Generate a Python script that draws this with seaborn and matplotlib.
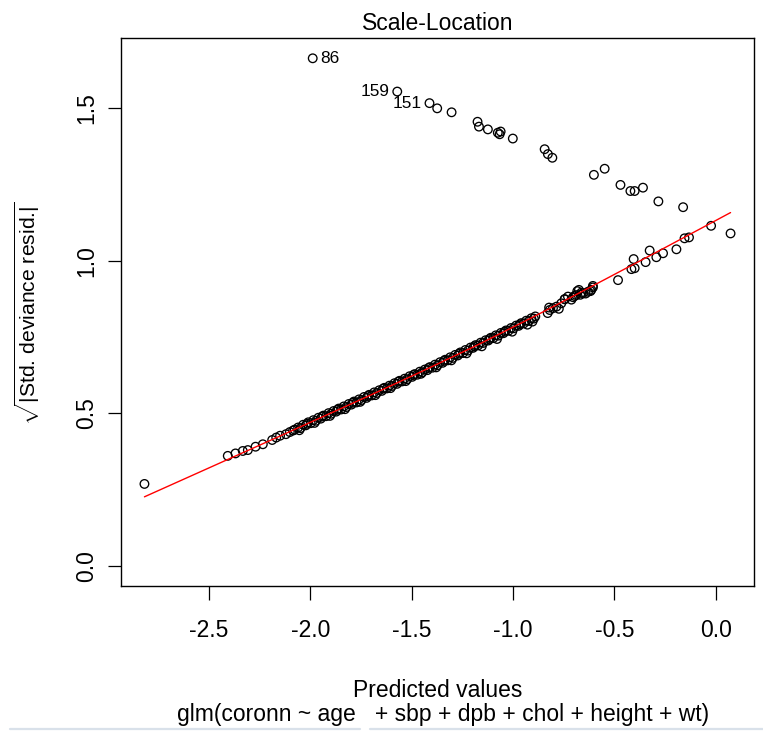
import numpy as np
import pandas as pd
import matplotlib
matplotlib.use("Agg")
import matplotlib.pyplot as plt
from matplotlib.lines import Line2D
import seaborn as sns

# ---- data (predicted value, sqrt|std. deviance resid.|) ----
upper_x = [-1.988, -1.571, -1.412, -1.374, -1.303, -1.175, -1.168, -1.124, -1.075, -1.066,
           -1.061, -1.001, -0.844, -0.828, -0.806, -0.601, -0.548, -0.470, -0.421, -0.400,
           -0.359, -0.283, -0.161]
upper_y = [1.663, 1.554, 1.516, 1.499, 1.486, 1.455, 1.439, 1.430, 1.419, 1.414,
           1.423, 1.400, 1.365, 1.349, 1.337, 1.281, 1.301, 1.248, 1.228, 1.228,
           1.239, 1.194, 1.175]

lower_x = [-2.818, -2.407, -2.369, -2.333, -2.308, -2.270, -2.234, -2.188, -2.168, -2.149,
           -2.120, -2.101, -2.085, -2.077,
           -2.060, -2.048, -2.035, -2.022, -2.010, -1.998, -1.985, -1.972, -1.960, -1.948,
           -1.935, -1.922, -1.910, -1.897, -1.885, -1.872, -1.860, -1.848, -1.835, -1.822,
           -1.810, -1.797, -1.785, -1.772, -1.760, -1.747, -1.735, -1.722, -1.710, -1.697,
           -1.685, -1.672, -1.660, -1.647, -1.635, -1.622, -1.610, -1.597, -1.585, -1.572,
           -1.560, -1.547, -1.535, -1.522, -1.510, -1.497, -1.485, -1.472, -1.460, -1.447,
           -1.435, -1.422, -1.410, -1.397, -1.385, -1.372, -1.360, -1.347, -1.335, -1.322,
           -1.310, -1.297, -1.285, -1.272, -1.260, -1.247, -1.235, -1.222, -1.210, -1.197,
           -1.185, -1.172, -1.160, -1.147, -1.135, -1.122, -1.110, -1.097, -1.085, -1.072,
           -1.060, -1.047, -1.035, -1.022, -1.010, -0.997, -0.985, -0.972, -0.960, -0.947,
           -0.935, -0.922, -0.910, -0.897, -0.890,
           -2.054, -2.016, -1.979, -1.941, -1.903, -1.866, -1.829, -1.791, -1.754, -1.716,
           -1.679, -1.641, -1.604, -1.566, -1.529, -1.491, -1.454, -1.416, -1.379, -1.341,
           -1.304, -1.266, -1.229, -1.191, -1.154, -1.116, -1.079, -1.041, -1.004, -0.966,
           -0.929, -0.904,
           -0.829, -0.822, -0.819, -0.803, -0.786, -0.774, -0.762, -0.745, -0.745, -0.729,
           -0.704, -0.688, -0.683, -0.675, -0.663, -0.655, -0.642, -0.630, -0.618, -0.614,
           -0.606, -0.606, -0.712, -0.696, -0.668,
           -0.482, -0.416, -0.400, -0.405, -0.346, -0.326, -0.293, -0.260, -0.194, -0.154,
           -0.132, -0.023, 0.073]
lower_y = [0.268, 0.360, 0.368, 0.376, 0.379, 0.390, 0.398, 0.412, 0.420, 0.426,
           0.431, 0.438, 0.443, 0.446,
           0.453, 0.451, 0.462, 0.460, 0.470, 0.467, 0.477, 0.475, 0.485, 0.482,
           0.492, 0.490, 0.500, 0.498, 0.507, 0.505, 0.515, 0.512, 0.522, 0.520,
           0.530, 0.528, 0.538, 0.535, 0.545, 0.543, 0.553, 0.550, 0.560, 0.558,
           0.568, 0.566, 0.575, 0.573, 0.583, 0.581, 0.590, 0.589, 0.598, 0.596,
           0.606, 0.604, 0.613, 0.611, 0.621, 0.619, 0.628, 0.626, 0.636, 0.634,
           0.643, 0.641, 0.651, 0.649, 0.659, 0.657, 0.667, 0.665, 0.675, 0.673,
           0.683, 0.681, 0.691, 0.689, 0.699, 0.697, 0.707, 0.705, 0.715, 0.714,
           0.723, 0.722, 0.731, 0.730, 0.739, 0.738, 0.747, 0.746, 0.755, 0.754,
           0.763, 0.762, 0.771, 0.770, 0.779, 0.778, 0.787, 0.786, 0.795, 0.794,
           0.803, 0.802, 0.811, 0.810, 0.817,
           0.444, 0.465, 0.468, 0.489, 0.491, 0.511, 0.513, 0.534, 0.537, 0.556,
           0.559, 0.580, 0.582, 0.603, 0.605, 0.625, 0.629, 0.648, 0.650, 0.671,
           0.673, 0.695, 0.696, 0.719, 0.719, 0.743, 0.743, 0.767, 0.767, 0.791,
           0.790, 0.800,
           0.828, 0.846, 0.838, 0.844, 0.849, 0.842, 0.860, 0.873, 0.874, 0.882,
           0.880, 0.887, 0.900, 0.904, 0.895, 0.893, 0.892, 0.898, 0.900, 0.904,
           0.917, 0.912, 0.872, 0.884, 0.888,
           0.936, 0.972, 0.975, 1.005, 0.995, 1.033, 1.011, 1.024, 1.037, 1.073,
           1.076, 1.114, 1.089]

id_labels = ["86", "159", "151"]
id_x = [-1.988, -1.571, -1.412]
id_y = [1.663, 1.554, 1.516]
id_side = ["right", "left", "left"]

xtick_vals = [-2.5, -2.0, -1.5, -1.0, -0.5, 0.0]
ytick_vals = [0.0, 0.5, 1.0, 1.5]

title = "Scale-Location"
xlabel = "Predicted values"
subtitle = "glm(coronn ~ age   + sbp + dpb + chol + height + wt)"
ylabel = r"$\sqrt{\text{|Std. deviance resid.|}}$"

df = pd.DataFrame({"x": upper_x + lower_x, "y": upper_y + lower_y})


def lowess(x, y, f=2 / 3, iters=3):
    x = np.asarray(x, float)
    y = np.asarray(y, float)
    order = np.argsort(x)
    x, y = x[order], y[order]
    n = len(x)
    r = int(np.ceil(f * n))
    robust = np.ones(n)
    yest = np.zeros(n)
    for _ in range(iters + 1):
        for i in range(n):
            d = np.abs(x - x[i])
            h = np.sort(d)[r - 1]
            u = np.clip(d / max(h, 1e-12), 0, 1)
            w = (1 - u ** 3) ** 3 * robust
            sw = w.sum()
            xm = (w * x).sum() / sw
            ym = (w * y).sum() / sw
            den = (w * (x - xm) ** 2).sum()
            b = (w * (x - xm) * (y - ym)).sum() / den if den > 1e-12 else 0.0
            yest[i] = ym + b * (x[i] - xm)
        res = y - yest
        s = np.median(np.abs(res))
        uu = np.clip(res / (6 * s), -1, 1)
        robust = (1 - uu ** 2) ** 2
    return x, yest


sns.set_style("white")
plt.rcParams["font.family"] = ["Liberation Sans", "DejaVu Sans"]
plt.rcParams["mathtext.fontset"] = "custom"
plt.rcParams["mathtext.rm"] = "Liberation Sans"
plt.rcParams["mathtext.it"] = "Liberation Sans:italic"
plt.rcParams["mathtext.bf"] = "Liberation Sans:bold"
plt.rcParams["text.color"] = "black"
plt.rcParams["xtick.color"] = "black"
plt.rcParams["ytick.color"] = "black"
plt.rcParams["axes.labelcolor"] = "black"

W, H = 763, 736
fig = plt.figure(figsize=(W / 100, H / 100), dpi=100)
L, R, T, B = 121, 754, 38, 586
ax = fig.add_axes([L / W, 1 - B / H, (R - L) / W, (B - T) / H])

FS = 16.5

sns.scatterplot(data=df, x="x", y="y", ax=ax, marker="o", s=38,
                facecolors="none", edgecolor="black", linewidth=0.95, legend=False)

lx, ly = lowess(df["x"].values, df["y"].values)
sns.lineplot(x=lx, y=ly, ax=ax, color="red", linewidth=1.0, sort=True, estimator=None)

for lab, px, py, side in zip(id_labels, id_x, id_y, id_side):
    off = 5.6 if side == "right" else -5.6
    ax.annotate(lab, (px, py), xytext=(off, 0), textcoords="offset points",
                ha="left" if side == "right" else "right", va="center",
                fontsize=FS * 0.75, color="black")

xmin, xmax = df["x"].min(), df["x"].max()
xr = xmax - xmin
ax.set_xlim(xmin - 0.04 * xr, xmax + 0.04 * xr)
ymax = df["y"].max()
ax.set_ylim(-0.04 * ymax, 1.04 * ymax)

ax.set_xticks(xtick_vals)
ax.set_xticklabels([f"{v:.1f}" for v in xtick_vals], fontsize=FS)
ax.set_yticks(ytick_vals)
ax.set_yticklabels([f"{v:.1f}" for v in ytick_vals], fontsize=FS, rotation=90, va="center")
ax.tick_params(axis="x", bottom=True, direction="out", length=10, width=0.9,
               color="black", labelcolor="black", pad=14)
ax.tick_params(axis="y", left=True, direction="out", length=9.6, width=0.9,
               color="black", labelcolor="black", pad=7)
ax.set_xlabel("")
ax.set_ylabel("")
for sp in ax.spines.values():
    sp.set_color("black")
    sp.set_linewidth(1.0)

fig.text((L + R) / 2 / W, 1 - 30 / H, title, ha="center", va="baseline", fontsize=FS, color="black")
fig.text((L + R) / 2 / W, 1 - 697 / H, xlabel, ha="center", va="baseline", fontsize=FS, color="black")
fig.text((L + R) / 2 / W + 6 / W, 1 - 721 / H, subtitle, ha="center", va="baseline",
         fontsize=FS, color="black")
fig.text(27 / W, 1 - 313 / H, ylabel, ha="center", va="center", rotation=90,
         fontsize=FS * 0.92, color="black")

fig.add_artist(Line2D([10 / W, 360 / W], [1 - 729 / H] * 2, color="#d9e1ea", linewidth=1.6))
fig.add_artist(Line2D([370 / W, 1.0], [1 - 729 / H] * 2, color="#d9e1ea", linewidth=1.6))

fig.savefig("out.png", dpi=100)
